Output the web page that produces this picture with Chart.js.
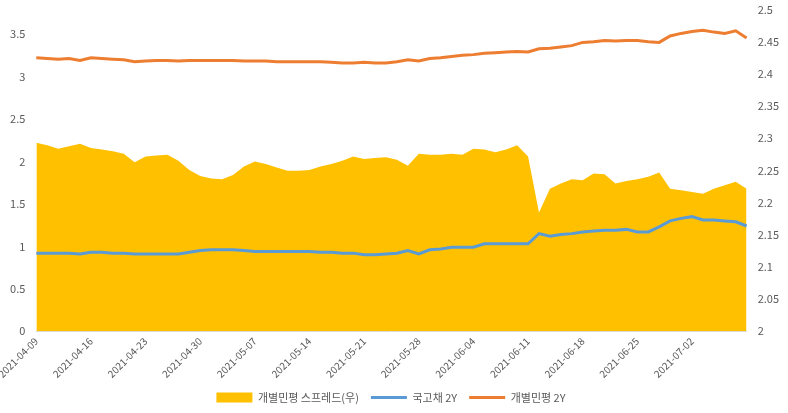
<!DOCTYPE html>
<html>
<head>
<meta charset="utf-8">
<script src="https://cdn.jsdelivr.net/npm/chart.js@4"></script>
<style>
  html, body { margin: 0; padding: 0; background: #fff; }
  #wrap { width: 788px; height: 413px; }
</style>
</head>
<body>
<div id="wrap"><canvas id="spreadChart"></canvas></div>
<script>
// categories (business days)
const dates = [
  '2021-04-09','2021-04-12','2021-04-13','2021-04-14','2021-04-15','2021-04-16',
  '2021-04-19','2021-04-20','2021-04-21','2021-04-22','2021-04-23',
  '2021-04-26','2021-04-27','2021-04-28','2021-04-29','2021-04-30',
  '2021-05-03','2021-05-04','2021-05-05','2021-05-06','2021-05-07',
  '2021-05-10','2021-05-11','2021-05-12','2021-05-13','2021-05-14',
  '2021-05-17','2021-05-18','2021-05-19','2021-05-20','2021-05-21',
  '2021-05-24','2021-05-25','2021-05-26','2021-05-27','2021-05-28',
  '2021-05-31','2021-06-01','2021-06-02','2021-06-03','2021-06-04',
  '2021-06-07','2021-06-08','2021-06-09','2021-06-10','2021-06-11',
  '2021-06-14','2021-06-15','2021-06-16','2021-06-17','2021-06-18',
  '2021-06-21','2021-06-22','2021-06-23','2021-06-24','2021-06-25',
  '2021-06-28','2021-06-29','2021-06-30','2021-07-01','2021-07-02',
  '2021-07-05','2021-07-06','2021-07-07','2021-07-08','2021-07-09'
];

// 개별민평 스프레드 (drawn against the left scale)
const spread = [
  2.22, 2.19, 2.15, 2.18, 2.21, 2.16, 2.14, 2.12, 2.09, 1.99, 2.06,
  2.07, 2.08, 2.01, 1.90, 1.83, 1.80, 1.79, 1.84, 1.94, 2.00,
  1.97, 1.93, 1.89, 1.89, 1.90, 1.94, 1.97, 2.01, 2.06, 2.03,
  2.04, 2.05, 2.02, 1.95, 2.09, 2.08, 2.08, 2.09, 2.08, 2.15,
  2.14, 2.11, 2.14, 2.19, 2.06, 1.40, 1.68, 1.74, 1.79, 1.78,
  1.86, 1.85, 1.74, 1.77, 1.79, 1.82, 1.87, 1.68, 1.66, 1.64,
  1.62, 1.68, 1.72, 1.76, 1.68
];

// 국고채 2Y (left axis)
const ktb2y = [
  0.92, 0.92, 0.92, 0.92, 0.91, 0.93, 0.93, 0.92, 0.92, 0.91, 0.91,
  0.91, 0.91, 0.91, 0.93, 0.95, 0.96, 0.96, 0.96, 0.95, 0.94,
  0.94, 0.94, 0.94, 0.94, 0.94, 0.93, 0.93, 0.92, 0.92, 0.90,
  0.90, 0.91, 0.92, 0.95, 0.91, 0.96, 0.97, 0.99, 0.99, 0.99,
  1.03, 1.03, 1.03, 1.03, 1.03, 1.15, 1.12, 1.14, 1.15, 1.17,
  1.18, 1.19, 1.19, 1.20, 1.17, 1.17, 1.23, 1.30, 1.33, 1.35,
  1.31, 1.31, 1.30, 1.29, 1.24
];

// 개별민평 2Y (right axis)
const corp2y = [
  2.425, 2.424, 2.423, 2.424, 2.421, 2.425, 2.424, 2.423, 2.422, 2.419, 2.420,
  2.421, 2.421, 2.420, 2.421, 2.421, 2.421, 2.421, 2.421, 2.420, 2.420,
  2.420, 2.419, 2.419, 2.419, 2.419, 2.419, 2.418, 2.417, 2.417, 2.418,
  2.417, 2.417, 2.419, 2.422, 2.420, 2.424, 2.425, 2.427, 2.429, 2.430,
  2.432, 2.433, 2.434, 2.435, 2.434, 2.439, 2.440, 2.442, 2.444, 2.449,
  2.450, 2.452, 2.451, 2.452, 2.452, 2.450, 2.449, 2.459, 2.463, 2.466,
  2.468, 2.465, 2.463, 2.467, 2.456
];

const leftTicks = [0, 0.5, 1, 1.5, 2, 2.5, 3, 3.5];

const tickColor = '#595959';
Chart.defaults.font.family = "'Noto Sans CJK KR', 'Liberation Sans', sans-serif";
Chart.defaults.font.size = 11;
Chart.defaults.color = tickColor;

new Chart(document.getElementById('spreadChart'), {
  type: 'line',
  data: {
    labels: dates,
    datasets: [
      {
        label: '개별민평 스프레드(우)',
        data: spread,
        yAxisID: 'y',
        fill: 'origin',
        backgroundColor: '#FFC000',
        borderWidth: 0,
        pointRadius: 0,
        pointStyle: 'rect',
        tension: 0,
        order: 3
      },
      {
        label: '국고채 2Y',
        data: ktb2y,
        yAxisID: 'y',
        borderColor: '#5B9BD5',
        backgroundColor: '#5B9BD5',
        borderWidth: 3,
        pointRadius: 0,
        pointStyle: 'line',
        fill: false,
        order: 2
      },
      {
        label: '개별민평 2Y',
        data: corp2y,
        yAxisID: 'y1',
        borderColor: '#ED7D31',
        backgroundColor: '#ED7D31',
        borderWidth: 3,
        pointRadius: 0,
        pointStyle: 'line',
        fill: false,
        order: 1
      }
    ]
  },
  options: {
    responsive: true,
    maintainAspectRatio: false,
    animation: false,
    layout: { padding: { top: 4, right: 6, left: 0, bottom: 0 } },
    plugins: {
      legend: {
        position: 'bottom',
        labels: {
          usePointStyle: true,
          pointStyleWidth: 36,
          boxHeight: 10,
          padding: 12,
          color: tickColor,
          font: { size: 11 },
          sort: (a, b) => a.datasetIndex - b.datasetIndex
        }
      },
      tooltip: { enabled: false }
    },
    scales: {
      x: {
        offset: false,
        grid: { display: false, drawTicks: true, tickLength: 4, color: '#d9d9d9' },
        border: { color: '#d9d9d9' },
        ticks: {
          autoSkip: false,
          maxRotation: 45,
          minRotation: 45,
          padding: 0,
          font: { size: 10 },
          callback: (v, i) => (i % 5 === 0 && i < 65 ? dates[i] : null)
        }
      },
      y: {
        position: 'left',
        min: 0,
        max: 3.79,
        grid: { display: false },
        border: { display: false },
        afterBuildTicks: axis => { axis.ticks = leftTicks.map(v => ({ value: v })); },
        ticks: { callback: v => String(+(+v).toFixed(1)) }
      },
      y1: {
        position: 'right',
        min: 2,
        max: 2.5,
        grid: { display: false },
        border: { display: false },
        ticks: { stepSize: 0.05, callback: v => String(+(+v).toFixed(2)) }
      }
    }
  }
});
</script>
</body>
</html>
